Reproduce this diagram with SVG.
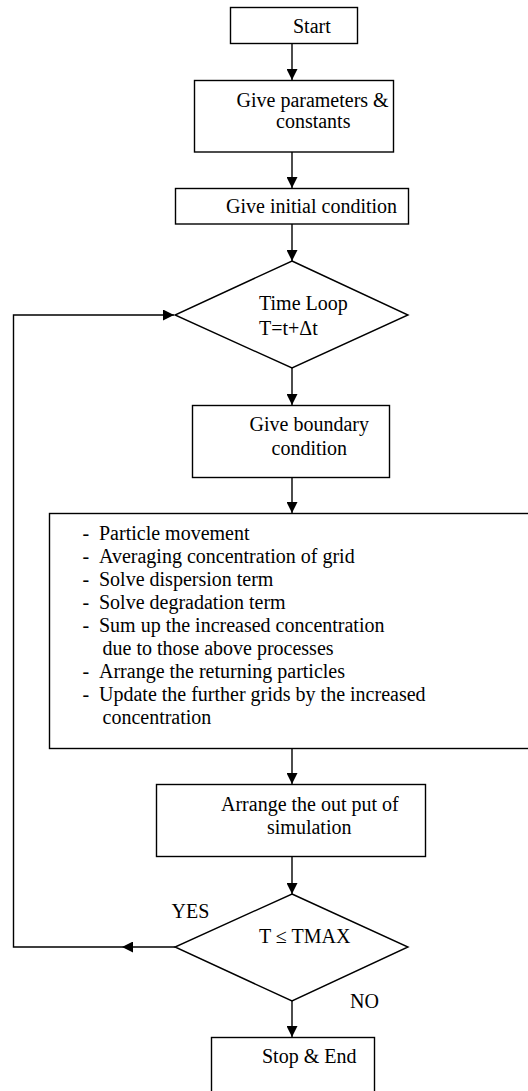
<svg xmlns="http://www.w3.org/2000/svg" width="528" height="1091" viewBox="0 0 528 1091">
<style>
.box{fill:#fff;stroke:#000;stroke-width:1.4}
.c{fill:none;stroke:#000;stroke-width:1.4}
</style>
<defs>
<marker id="ah" markerUnits="userSpaceOnUse" markerWidth="11" markerHeight="11" refX="11" refY="5.5" orient="auto">
<path d="M0,0 L11,5.5 L0,11 z" fill="#000"/>
</marker>
</defs>
<rect width="528" height="1091" fill="#fff"/>
<g id="connectors">
<path class="c" d="M292,44 V80" marker-end="url(#ah)"/>
<path class="c" d="M292,152 V188" marker-end="url(#ah)"/>
<path class="c" d="M292,224 V261" marker-end="url(#ah)"/>
<path class="c" d="M292,368 V405" marker-end="url(#ah)"/>
<path class="c" d="M292,477 V513" marker-end="url(#ah)"/>
<path class="c" d="M292,748 V784" marker-end="url(#ah)"/>
<path class="c" d="M292,857 V894" marker-end="url(#ah)"/>
<path class="c" d="M292,1001 V1037" marker-end="url(#ah)"/>
<path class="c" d="M175,947 H122" marker-end="url(#ah)"/>
<path class="c" d="M122,947 H13.5 V315 H174" marker-end="url(#ah)"/>
</g>
<g font-family="Liberation Serif, DejaVu Serif, Times New Roman, serif" font-size="20" fill="#000">
<g id="start">
<rect class="box" x="230.5" y="7.5" width="127" height="36"/>
<text x="293" y="33">Start</text>
</g>
<g id="params">
<rect class="box" x="194.5" y="80.5" width="199" height="71.5"/>
<text x="236.5" y="107">Give parameters &amp;</text>
<text x="276" y="128">constants</text>
</g>
<g id="initial">
<rect class="box" x="175.5" y="188.5" width="233" height="35.5"/>
<text x="226" y="213">Give initial condition</text>
</g>
<g id="timeloop">
<polygon class="box" points="292,261 408,315 292,368 175,315"/>
<text x="259" y="310">Time Loop</text>
<text x="259" y="335">T=t+Δt</text>
</g>
<g id="boundary">
<rect class="box" x="192.5" y="405.5" width="197" height="72"/>
<text x="249.5" y="431">Give boundary</text>
<text x="271.5" y="455">condition</text>
</g>
<g id="process">
<rect class="box" x="49.5" y="513.5" width="500" height="235"/>
<text x="82.5" y="540">-</text><text x="99" y="540">Particle movement</text>
<text x="82.5" y="563">-</text><text x="99" y="563">Averaging concentration of grid</text>
<text x="82.5" y="586">-</text><text x="99" y="586">Solve dispersion term</text>
<text x="82.5" y="609">-</text><text x="99" y="609">Solve degradation term</text>
<text x="82.5" y="632">-</text><text x="99" y="632">Sum up the increased concentration</text>
<text x="102.5" y="655">due to those above processes</text>
<text x="82.5" y="678">-</text><text x="99" y="678">Arrange the returning particles</text>
<text x="82.5" y="701">-</text><text x="99" y="701">Update the further grids by the increased</text>
<text x="102.5" y="724">concentration</text>
</g>
<g id="output">
<rect class="box" x="156.5" y="784.5" width="269" height="72"/>
<text x="221" y="811">Arrange the out put of</text>
<text x="267" y="834">simulation</text>
</g>
<g id="check">
<polygon class="box" points="292,894 408,947 292,1001 175,947"/>
<text x="259" y="943">T ≤ TMAX</text>
<text x="171.5" y="918">YES</text>
<text x="350" y="1008">NO</text>
</g>
<g id="stop">
<rect class="box" x="211.5" y="1037.5" width="163" height="80"/>
<text x="262" y="1063">Stop &amp; End</text>
</g>
</g>
</svg>
